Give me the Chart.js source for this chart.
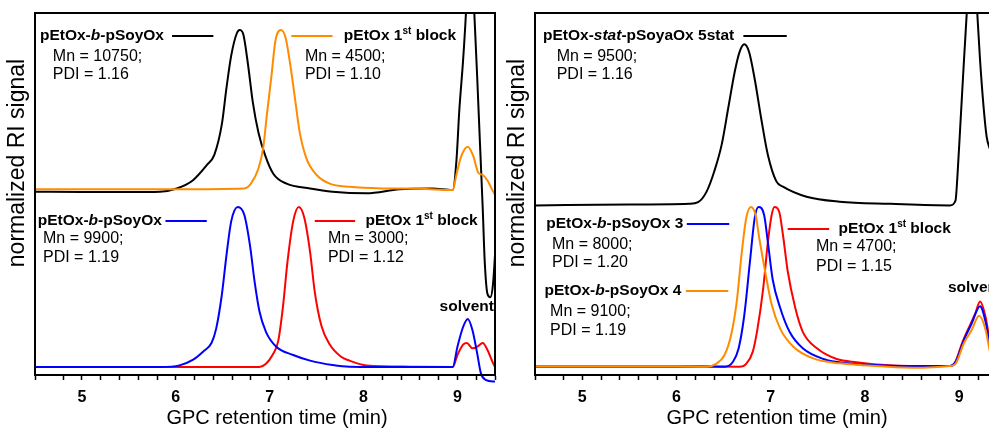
<!DOCTYPE html>
<html>
<head>
<meta charset="utf-8">
<script src="https://cdn.jsdelivr.net/npm/chart.js@4.4.1/dist/chart.umd.min.js"></script>
<style>
    html, body { margin: 0; padding: 0; background: #fff; overflow: hidden; width: 989px; height: 428px; }
    #chartA { position: absolute; left: 0; top: 0; }
    #chartB { position: absolute; left: 500px; top: 0; }
</style>
</head>
<body>
<canvas id="chartA" width="497" height="428"></canvas>
<canvas id="chartB" width="500" height="428"></canvas>
<script>
// GPC traces, retention time (min) and normalized RI signal
const leftBlackTime = [4.5, 5.0, 5.5, 5.83, 6.01, 6.18, 6.33, 6.41, 6.49, 6.54, 6.59, 6.65, 6.68, 6.72, 6.77, 6.82, 6.88, 6.95, 7.04, 7.18, 7.43, 7.67, 8.03, 8.38, 8.73, 8.95, 8.99, 9.02, 9.06, 9.09, 9.135, 9.18, 9.21, 9.24, 9.27, 9.29, 9.32, 9.35, 9.38, 9.42];
const leftBlackSignal = [-0.01, -0.012, -0.012, -0.01, 0.01, 0.06, 0.156, 0.22, 0.41, 0.64, 0.84, 0.98, 1.0, 0.97, 0.78, 0.55, 0.36, 0.22, 0.10, 0.04, 0.01, -0.01, -0.02, 0.005, 0.01, 0.0, 0.19, 0.5, 0.81, 1.1, 1.7, 1.1, 0.71, 0.29, -0.125, -0.44, -0.65, -0.67, -0.58, -0.2];

const leftOrangeTime = [4.5, 6.0, 6.73, 6.80, 6.88, 6.93, 6.97, 7.02, 7.06, 7.12, 7.17, 7.22, 7.27, 7.32, 7.39, 7.50, 7.64, 7.85, 8.2, 8.6, 8.95, 8.99, 9.04, 9.11, 9.17, 9.22, 9.27, 9.32, 9.38, 9.42];
const leftOrangeSignal = [0.005, 0.005, 0.01, 0.04, 0.135, 0.26, 0.47, 0.72, 0.93, 1.0, 0.95, 0.78, 0.57, 0.36, 0.20, 0.094, 0.04, 0.02, 0.01, 0.008, 0.0, 0.10, 0.21, 0.27, 0.21, 0.11, 0.094, 0.06, -0.01, -0.05];

const leftBlueTime = [4.5, 5.5, 5.83, 6.04, 6.18, 6.29, 6.38, 6.43, 6.49, 6.54, 6.59, 6.66, 6.73, 6.79, 6.84, 6.89, 6.96, 7.07, 7.25, 7.43, 7.67, 7.85, 8.5, 8.95, 9.0, 9.06, 9.11, 9.16, 9.21, 9.25, 9.30, 9.38, 9.42];
const leftBlueSignal = [0, 0, 0, 0.01, 0.044, 0.096, 0.15, 0.24, 0.45, 0.70, 0.91, 1.0, 0.95, 0.76, 0.53, 0.35, 0.22, 0.127, 0.075, 0.04, 0.0125, 0.002, 0, 0, 0.127, 0.25, 0.30, 0.23, 0.086, -0.04, -0.08, -0.09, -0.09];

const leftRedTime = [4.5, 6.5, 6.89, 6.96, 7.03, 7.09, 7.14, 7.19, 7.25, 7.31, 7.37, 7.43, 7.48, 7.55, 7.64, 7.76, 7.85, 8.03, 8.5, 8.95, 9.0, 9.06, 9.10, 9.16, 9.21, 9.27, 9.32, 9.38, 9.42];
const leftRedSignal = [0, 0, 0, 0.02, 0.075, 0.16, 0.37, 0.66, 0.91, 1.0, 0.93, 0.72, 0.47, 0.26, 0.14, 0.064, 0.04, 0.01, 0.002, 0, 0.075, 0.14, 0.15, 0.117, 0.127, 0.15, 0.106, 0.023, -0.02];

const rightBlackTime = [4.5, 5.5, 6.14, 6.23, 6.32, 6.40, 6.48, 6.55, 6.62, 6.67, 6.72, 6.77, 6.83, 6.90, 6.97, 7.06, 7.13, 7.38, 7.73, 8.27, 8.90, 8.96, 8.98, 9.01, 9.05, 9.08, 9.135, 9.19, 9.22, 9.26, 9.29, 9.32, 9.36, 9.42];
const rightBlackSignal = [0, 0.005, 0.01, 0.02, 0.086, 0.21, 0.38, 0.61, 0.84, 0.96, 1.007, 0.96, 0.79, 0.54, 0.315, 0.15, 0.117, 0.054, 0.023, 0.01, 0, 0.03, 0.18, 0.49, 0.91, 1.21, 1.8, 1.21, 0.91, 0.60, 0.43, 0.36, 0.3, 0.1];

const rightOrangeTime = [4.5, 6.0, 6.32, 6.42, 6.51, 6.58, 6.64, 6.69, 6.74, 6.79, 6.84, 6.88, 6.94, 7.01, 7.10, 7.24, 7.45, 7.73, 7.95, 8.5, 8.90, 8.96, 9.05, 9.13, 9.21, 9.28, 9.32, 9.38];
const rightOrangeSignal = [0.005, 0.005, 0.002, 0.02, 0.075, 0.2, 0.41, 0.70, 0.93, 1.0, 0.95, 0.80, 0.60, 0.39, 0.24, 0.127, 0.054, 0.023, 0.0125, -0.005, 0.006, 0.02, 0.15, 0.23, 0.32, 0.23, 0.11, -0.05];

const rightBlueTime = [4.5, 6.0, 6.51, 6.60, 6.66, 6.72, 6.78, 6.83, 6.87, 6.93, 6.97, 7.02, 7.10, 7.20, 7.34, 7.56, 7.81, 8.2, 8.90, 8.96, 9.05, 9.13, 9.22, 9.28, 9.32, 9.38];
const rightBlueSignal = [0.003, 0.003, 0.002, 0.033, 0.117, 0.325, 0.66, 0.93, 1.0, 0.95, 0.78, 0.55, 0.37, 0.22, 0.117, 0.05, 0.023, 0.01, 0.006, 0.03, 0.17, 0.27, 0.38, 0.28, 0.15, -0.03];

const rightRedTime = [4.5, 6.0, 6.67, 6.74, 6.81, 6.86, 6.92, 6.97, 7.01, 7.04, 7.09, 7.13, 7.18, 7.26, 7.34, 7.49, 7.70, 7.91, 8.3, 8.90, 8.96, 9.03, 9.12, 9.17, 9.22, 9.28, 9.32, 9.38];
const rightRedSignal = [0.003, 0.003, 0.002, 0.02, 0.096, 0.24, 0.49, 0.78, 0.95, 1.0, 0.97, 0.825, 0.6, 0.37, 0.22, 0.117, 0.05, 0.03, 0.01, 0.006, 0.035, 0.15, 0.27, 0.335, 0.41, 0.31, 0.17, -0.02];

// vertical offsets of the upper traces (stacked plot)
const leftUpperOffset = 1.106;
const rightUpperOffset = 1.01;

const xTickStep = 0.2;
const xTitle = 'GPC retention time (min)';
const yTitle = 'normalized RI signal';

const ORANGE = '#ff8c00';
const FAMILY = '"Liberation Sans", Arial, Helvetica, sans-serif';
Chart.defaults.font.family = FAMILY;
Chart.defaults.color = '#000';

const fonts = {
    b: 'bold 15.5px ' + FAMILY,
    bi: 'italic bold 15.5px ' + FAMILY,
    r: '16px ' + FAMILY,
    sup: 'bold 10px ' + FAMILY
};

const bold = t => [t, 'b'];
const blockName = [['pEtOx 1', 'b'], ['st', 'sup'], [' block', 'b']];

const leftLabels = [
    { t: 4.553, v: 2.069, parts: [bold('pEtOx-'), ['b', 'bi'], bold('-pSoyOx')] },
    { t: 4.69, v: 1.9375, parts: [['Mn = 10750;', 'r']] },
    { t: 4.69, v: 1.825, parts: [['PDI = 1.16', 'r']] },
    { t: 7.79, v: 2.069, parts: blockName },
    { t: 7.375, v: 1.9375, parts: [['Mn = 4500;', 'r']] },
    { t: 7.375, v: 1.825, parts: [['PDI = 1.10', 'r']] },
    { t: 4.53, v: 0.9125, parts: [bold('pEtOx-'), ['b', 'bi'], bold('-pSoyOx')] },
    { t: 4.585, v: 0.8, parts: [['Mn = 9900;', 'r']] },
    { t: 4.585, v: 0.681, parts: [['PDI = 1.19', 'r']] },
    { t: 8.02, v: 0.9125, parts: blockName },
    { t: 7.62, v: 0.8, parts: [['Mn = 3000;', 'r']] },
    { t: 7.62, v: 0.681, parts: [['PDI = 1.12', 'r']] },
    { t: 8.81, v: 0.375, parts: [bold('solvent')] }
];
const leftKeys = [
    { t1: 5.96, t2: 6.40, v: 2.069, color: '#000' },
    { t1: 7.23, t2: 7.67, v: 2.069, color: ORANGE },
    { t1: 5.89, t2: 6.33, v: 0.9125, color: '#0000ff' },
    { t1: 7.48, t2: 7.91, v: 0.9125, color: '#ff0000' }
];

const rightLabels = [
    { t: 4.585, v: 2.069, parts: [bold('pEtOx-'), ['stat', 'bi'], bold('-pSoyaOx 5stat')] },
    { t: 4.73, v: 1.9375, parts: [['Mn = 9500;', 'r']] },
    { t: 4.73, v: 1.825, parts: [['PDI = 1.16', 'r']] },
    { t: 4.62, v: 0.894, parts: [bold('pEtOx-'), ['b', 'bi'], bold('-pSoyOx 3')] },
    { t: 4.68, v: 0.7625, parts: [['Mn = 8000;', 'r']] },
    { t: 4.68, v: 0.65, parts: [['PDI = 1.20', 'r']] },
    { t: 4.60, v: 0.475, parts: [bold('pEtOx-'), ['b', 'bi'], bold('-pSoyOx 4')] },
    { t: 4.66, v: 0.344, parts: [['Mn = 9100;', 'r']] },
    { t: 4.66, v: 0.225, parts: [['PDI = 1.19', 'r']] },
    { t: 7.72, v: 0.8625, parts: blockName },
    { t: 7.48, v: 0.75, parts: [['Mn = 4700;', 'r']] },
    { t: 7.48, v: 0.625, parts: [['PDI = 1.15', 'r']] },
    { t: 8.88, v: 0.494, parts: [bold('solvent')] }
];
const rightKeys = [
    { t1: 6.71, t2: 7.17, v: 2.069, color: '#000' },
    { t1: 6.11, t2: 6.56, v: 0.894, color: '#0000ff' },
    { t1: 6.10, t2: 6.55, v: 0.475, color: ORANGE },
    { t1: 7.18, t2: 7.62, v: 0.8625, color: '#ff0000' }
];

function drawParts(ctx, x, y, parts) {
    ctx.textBaseline = 'middle';
    ctx.textAlign = 'left';
    ctx.fillStyle = '#000';
    parts.forEach(([txt, st]) => {
        ctx.font = fonts[st];
        ctx.fillText(txt, x, st === 'sup' ? y - 5 : y);
        x += ctx.measureText(txt).width;
    });
}

const notesPlugin = {
    id: 'notes',
    afterDatasetsDraw(chart, args, opts) {
        const { ctx, chartArea: a, scales: { x, y } } = chart;
        ctx.save();
        ctx.strokeStyle = '#000';
        ctx.lineWidth = 2;
        ctx.strokeRect(a.left, a.top, a.right - a.left, a.bottom - a.top);

        opts.keys.forEach(k => {
            ctx.strokeStyle = k.color;
            ctx.beginPath();
            ctx.moveTo(x.getPixelForValue(k.t1), y.getPixelForValue(k.v));
            ctx.lineTo(x.getPixelForValue(k.t2), y.getPixelForValue(k.v));
            ctx.stroke();
        });
        opts.labels.forEach(l => drawParts(ctx, x.getPixelForValue(l.t), y.getPixelForValue(l.v), l.parts));

        // axis titles: x title sits a little right of centre, y title a bit above
        ctx.font = '20px ' + FAMILY;
        ctx.textAlign = 'center';
        ctx.textBaseline = 'middle';
        ctx.fillText(xTitle, a.left + 242, 418);

        ctx.translate(a.left - 17, a.top + 150);
        ctx.rotate(-Math.PI / 2);
        ctx.font = '23px ' + FAMILY;
        ctx.fillText(yTitle, 0, 0);
        ctx.restore();
    }
};

function trace(times, signals, offset, color, extra) {
    return Object.assign({
        data: times.map((t, i) => ({ x: t, y: signals[i] + offset })),
        borderColor: color,
        borderWidth: 2,
        pointRadius: 0,
        fill: false,
        cubicInterpolationMode: 'monotone'
    }, extra || {});
}

function makeOptions(padRight, labels, keys) {
    return {
        responsive: false,
        animation: false,
        layout: { padding: { top: 13, right: padRight, left: 0, bottom: 0 } },
        plugins: {
            legend: { display: false },
            tooltip: { enabled: false },
            notes: { labels: labels, keys: keys }
        },
        scales: {
            x: {
                type: 'linear',
                min: 4.5,
                max: 9.4,
                afterFit: s => { s.height = 53; s.paddingRight = 0; },
                border: { display: true, color: '#000', width: 2 },
                grid: { drawOnChartArea: false, drawTicks: true, tickLength: 5, tickColor: '#000', tickWidth: 1.5 },
                ticks: {
                    stepSize: xTickStep,
                    autoSkip: false,
                    maxRotation: 0,
                    padding: 8,
                    color: '#000',
                    font: { size: 16, weight: 'bold' },
                    callback: v => Math.abs(v - Math.round(v)) < 1e-6 ? String(Math.round(v)) : ''
                },
                title: { display: false }
            },
            y: {
                min: -0.05,
                max: 2.2125,
                afterFit: s => { s.width = 35; },
                border: { display: true, color: '#000', width: 2 },
                grid: { display: false },
                ticks: { display: false }
            }
        }
    };
}

new Chart(document.getElementById('chartA'), {
    type: 'line',
    data: {
        datasets: [
            trace(leftOrangeTime, leftOrangeSignal, leftUpperOffset, ORANGE),
            trace(leftBlackTime, leftBlackSignal, leftUpperOffset, '#000'),
            trace(leftBlueTime, leftBlueSignal, 0, '#0000ff', { clip: { left: 0, top: 0, right: 0, bottom: 8 } }),
            trace(leftRedTime, leftRedSignal, 0, '#ff0000')
        ]
    },
    options: makeOptions(2, leftLabels, leftKeys),
    plugins: [notesPlugin]
});

new Chart(document.getElementById('chartB'), {
    type: 'line',
    data: {
        datasets: [
            trace(rightBlackTime, rightBlackSignal, rightUpperOffset, '#000'),
            trace(rightOrangeTime, rightOrangeSignal, 0, ORANGE),
            trace(rightBlueTime, rightBlueSignal, 0, '#0000ff'),
            trace(rightRedTime, rightRedSignal, 0, '#ff0000')
        ]
    },
    options: makeOptions(3, rightLabels, rightKeys),
    plugins: [notesPlugin]
});
</script>
</body>
</html>
